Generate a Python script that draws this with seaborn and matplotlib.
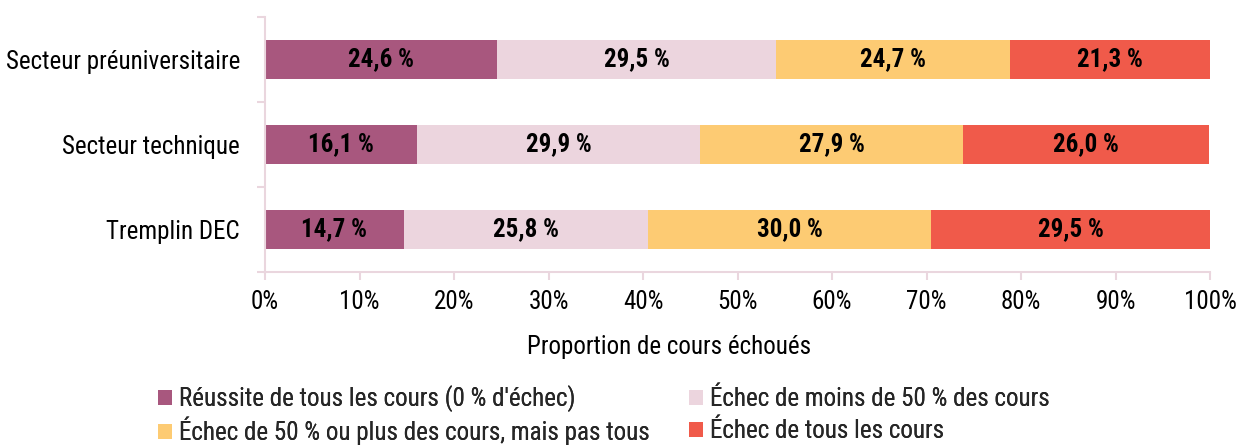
import matplotlib
matplotlib.use("Agg")
import matplotlib.pyplot as plt
from matplotlib.patches import Patch
from matplotlib.ticker import FixedLocator, PercentFormatter
from matplotlib import font_manager
import numpy as np
import pandas as pd
import seaborn as sns

categories = ["Secteur préuniversitaire", "Secteur technique", "Tremplin DEC"]
reussite_tous = [24.6, 16.1, 14.7]
echec_moins_50 = [29.5, 29.9, 25.8]
echec_50_plus = [24.7, 27.9, 30.0]
echec_tous = [21.3, 26.0, 29.5]
series_names = [
    "Réussite de tous les cours (0 % d'échec)",
    "Échec de moins de 50 % des cours",
    "Échec de 50 % ou plus des cours, mais pas tous",
    "Échec de tous les cours",
]
colors = ["#a8577e", "#ecd5de", "#fdcb73", "#f05a4a"]
x_ticks = [0, 10, 20, 30, 40, 50, 60, 70, 80, 90, 100]

sns.set_theme(style="white")
available = {f.name for f in font_manager.fontManager.ttflist}
families = [f for f in ["Roboto Condensed", "Liberation Sans", "DejaVu Sans"] if f in available]
plt.rcParams["font.family"] = families
spine_color = "#ead6de"
FS = 18

series = [reussite_tous, echec_moins_50, echec_50_plus, echec_tous]
cum = np.cumsum(np.array(series), axis=0)

fig = plt.figure(figsize=(12.42, 4.46), dpi=100)
ax = fig.add_axes([265 / 1242, 1 - 272 / 446, (1210 - 265) / 1242, 255 / 446])

# stacked bars: draw cumulative totals from the largest down
for i in reversed(range(len(series))):
    df = pd.DataFrame({"cat": categories, "val": cum[i]})
    sns.barplot(data=df, x="val", y="cat", orient="h", color=colors[i],
                width=0.47, saturation=1, ax=ax, edgecolor="none")

for i, vals in enumerate(series):
    for j, v in enumerate(vals):
        center = cum[i][j] - v / 2
        ax.text(center, j, f"{v:.1f} %".replace(".", ","), ha="center", va="center",
                fontsize=FS, fontweight="bold", color="black")

ax.set_xlim(0, 100)
ax.set_ylim(2.5, -0.5)
ax.xaxis.set_major_locator(FixedLocator(x_ticks))
ax.xaxis.set_major_formatter(PercentFormatter(decimals=0))
ax.set_xlabel("")
ax.set_ylabel("")

for side in ["top", "right"]:
    ax.spines[side].set_visible(False)
for side in ["left", "bottom"]:
    ax.spines[side].set_color(spine_color)
    ax.spines[side].set_linewidth(1.5)

ax.tick_params(axis="x", which="major", bottom=True, length=6, width=1.5, color=spine_color,
               labelsize=FS, pad=7, labelcolor="black")
ax.tick_params(axis="y", which="major", left=False, labelsize=FS, pad=12, labelcolor="black")
ax.yaxis.set_minor_locator(FixedLocator([-0.5, 0.5, 1.5, 2.5]))
ax.tick_params(axis="y", which="minor", left=True, length=6, width=1.5, color=spine_color)

fig.text(669 / 1242, 1 - 347 / 446, "Proportion de cours échoués", ha="center", va="center",
         fontsize=FS, color="black")

# legend laid out as a 2x2 grid, one entry per cell
handles = [Patch(facecolor=c, edgecolor="none") for c in colors]
legend_kw = dict(loc="center left", frameon=False, fontsize=FS, ncol=1,
                 handlelength=0.55, handleheight=0.55, handletextpad=0.3,
                 borderaxespad=0, borderpad=0)
cells = [(158, 399), (689, 399), (158, 431), (689, 431)]
for k, (px, py) in enumerate(cells):
    leg = fig.legend([handles[k]], [series_names[k]],
                     bbox_to_anchor=(px / 1242, 1 - py / 446), **legend_kw)
    fig.add_artist(leg)

fig.savefig("out.png", dpi=100, facecolor="white")
